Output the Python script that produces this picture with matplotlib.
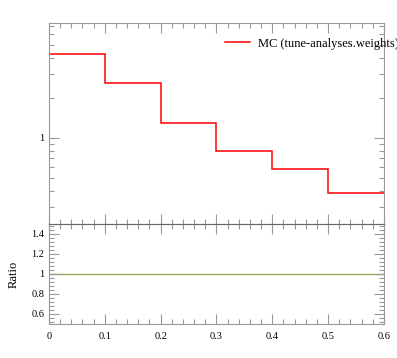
import numpy as np
import matplotlib
matplotlib.use("Agg")
import matplotlib.pyplot as plt
from matplotlib.ticker import MultipleLocator, LogLocator, NullFormatter, FuncFormatter

plt.rcParams["font.family"] = ["Liberation Serif", "DejaVu Serif"]

# histogram data
bin_edges = [0.0, 0.1, 0.2, 0.3, 0.4, 0.5, 0.6]
mc_values = [4.30, 2.61, 1.30, 0.80, 0.585, 0.386]
ratio_values = [1.0, 1.0, 1.0, 1.0, 1.0, 1.0]
mc_label = "MC (tune-analyses.weights)"

fig = plt.figure(figsize=(3.97, 3.58), dpi=100)
ax = fig.add_axes([0.1234, 0.3743, 0.8438, 0.5615])
rax = fig.add_axes([0.1234, 0.095, 0.8438, 0.2793], sharex=ax)

tick_col = "#999999"

# main panel
ax.stairs(mc_values, bin_edges, color="red", lw=1.1, baseline=None, label=mc_label)
ax.set_yscale("log")
ax.set_ylim(0.225, 7.32)
ax.set_xlim(0.0, 0.6)
ax.yaxis.set_major_locator(LogLocator(base=10, numticks=5))
ax.yaxis.set_minor_locator(LogLocator(base=10, subs=np.arange(2, 10), numticks=20))
ax.yaxis.set_minor_formatter(NullFormatter())
ax.yaxis.set_major_formatter(FuncFormatter(lambda v, p: "%g" % v))
ax.xaxis.set_major_locator(MultipleLocator(0.1))
ax.xaxis.set_minor_locator(MultipleLocator(0.02))
ax.tick_params(labelbottom=False)

leg = ax.legend(loc="upper left", bbox_to_anchor=(0.50, 0.97), frameon=False,
                fontsize=9, handlelength=2.0, handletextpad=0.6, borderpad=0.2)
leg.set_clip_on(False)

# ratio panel
rax.stairs(ratio_values, bin_edges, color="#a3a35c", lw=1.0, baseline=None)
rax.set_ylim(0.5, 1.5)
rax.yaxis.set_major_locator(MultipleLocator(0.2))
rax.yaxis.set_minor_locator(MultipleLocator(0.04))
rax.yaxis.set_major_formatter(FuncFormatter(lambda v, p: "%g" % round(v, 2)))
rax.xaxis.set_major_formatter(FuncFormatter(lambda v, p: "%g" % round(v, 2)))
rax.set_ylabel("Ratio", fontsize=9, labelpad=8)

for a in (ax, rax):
    for s in a.spines.values():
        s.set_color(tick_col)
    a.tick_params(which="both", direction="in", top=True, right=True,
                  color=tick_col, labelsize=7.5, width=0.8)
    a.tick_params(which="major", length=7)
    a.tick_params(which="minor", length=3.5)
ax.spines["bottom"].set_color("#666666")
rax.spines["top"].set_color("#666666")
rax.tick_params(axis="x", pad=6)

fig.savefig("out.png", dpi=100)
